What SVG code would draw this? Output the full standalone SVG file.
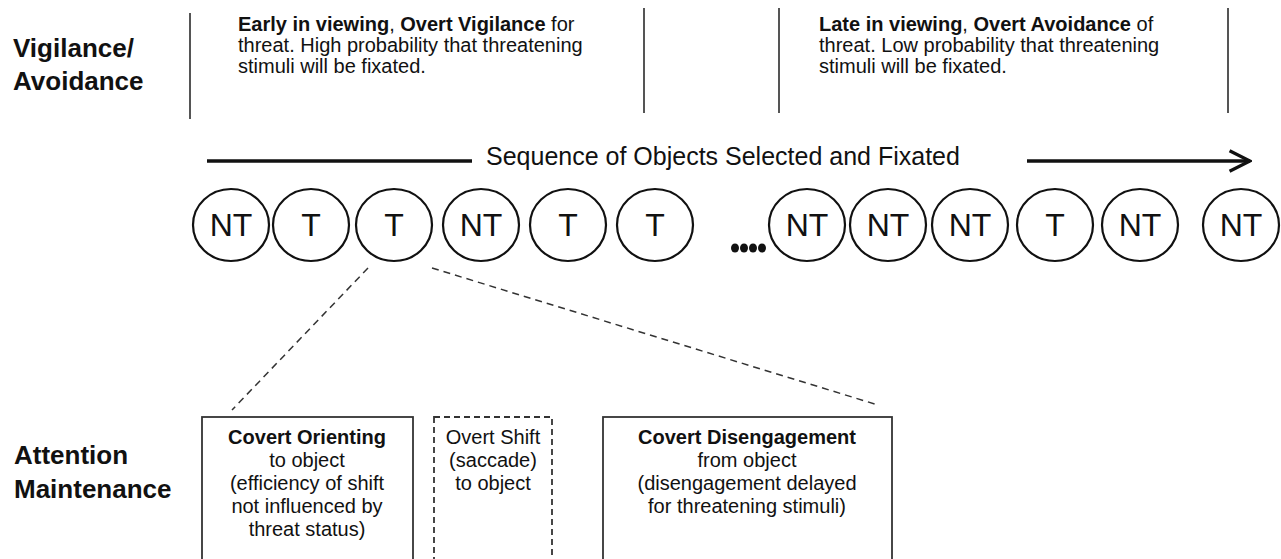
<svg xmlns="http://www.w3.org/2000/svg" width="1281" height="559" viewBox="0 0 1281 559">
  <style>
    text { font-family: "Liberation Sans", Arial, sans-serif; fill: #111; }
    .head { font-size: 26px; font-weight: bold; }
    .note { font-size: 20px; }
    .box-text { font-size: 20px; text-anchor: middle; }
    .b { font-weight: bold; }
    .seq { font-size: 25px; }
    .obj-label { font-size: 32px; text-anchor: middle; }
    .divider { stroke: #555; stroke-width: 2; }
    .obj { fill: #fff; stroke: #111; stroke-width: 2.2; }
    .stage { fill: #fff; stroke: #333; stroke-width: 1.8; }
    .stage-dashed { fill: #fff; stroke: #333; stroke-width: 1.8; stroke-dasharray: 6 4; }
    .link { fill: none; stroke: #333; stroke-width: 1.5; stroke-dasharray: 7 5; }
    .timeline { fill: none; stroke: #111; stroke-width: 3.5; }
  </style>
  <defs>
    <marker id="chevron" viewBox="0 0 12 12" refX="11" refY="6" markerWidth="7" markerHeight="7" orient="auto" markerUnits="strokeWidth">
      <path d="M1,1 L11,6 L1,11" fill="none" stroke="#111" stroke-width="1.6"/>
    </marker>
  </defs>

  <rect width="1281" height="559" fill="#fff"/>

  <!-- row headings -->
  <g id="heading-vigilance">
    <text class="head" x="13" y="57">Vigilance/</text>
    <text class="head" x="13" y="90">Avoidance</text>
  </g>
  <g id="heading-attention">
    <text class="head" x="14" y="464">Attention</text>
    <text class="head" x="14" y="498">Maintenance</text>
  </g>

  <!-- column dividers -->
  <g id="dividers">
    <line class="divider" x1="190" y1="13" x2="190" y2="119"/>
    <line class="divider" x1="644" y1="8" x2="644" y2="113"/>
    <line class="divider" x1="779" y1="8" x2="779" y2="113" stroke="#333"/>
    <line class="divider" x1="1228" y1="8" x2="1228" y2="113" stroke="#333"/>
  </g>

  <g id="note-early">
    <text class="note" x="238" y="31"><tspan class="b">Early in viewing</tspan>, <tspan class="b">Overt Vigilance</tspan> for</text>
    <text class="note" x="238" y="52">threat. High probability that threatening</text>
    <text class="note" x="238" y="73">stimuli will be fixated.</text>
  </g>
  <g id="note-late">
    <text class="note" x="819" y="31"><tspan class="b">Late in viewing</tspan>, <tspan class="b">Overt Avoidance</tspan> of</text>
    <text class="note" x="819" y="52">threat. Low probability that threatening</text>
    <text class="note" x="819" y="73">stimuli will be fixated.</text>
  </g>

  <!-- sequence timeline -->
  <g id="timeline">
    <line class="timeline" x1="207" y1="161" x2="472" y2="161"/>
    <text class="seq" x="486" y="165">Sequence of Objects Selected and Fixated</text>
    <line class="timeline" x1="1027" y1="161" x2="1250" y2="161" marker-end="url(#chevron)"/>
  </g>

  <!-- fixated objects -->
  <g id="obj-1"><ellipse class="obj" cx="231" cy="225" rx="38" ry="36"/><text class="obj-label" x="231" y="236">NT</text></g>
  <g id="obj-2"><ellipse class="obj" cx="311" cy="225" rx="38" ry="36"/><text class="obj-label" x="311" y="236">T</text></g>
  <g id="obj-3"><ellipse class="obj" cx="394" cy="225" rx="38" ry="36"/><text class="obj-label" x="394" y="236">T</text></g>
  <g id="obj-4"><ellipse class="obj" cx="481" cy="225" rx="38" ry="36"/><text class="obj-label" x="481" y="236">NT</text></g>
  <g id="obj-5"><ellipse class="obj" cx="568" cy="225" rx="38" ry="36"/><text class="obj-label" x="568" y="236">T</text></g>
  <g id="obj-6"><ellipse class="obj" cx="655" cy="225" rx="38" ry="36"/><text class="obj-label" x="655" y="236">T</text></g>
  <g id="ellipsis">
    <ellipse cx="735" cy="248" rx="4" ry="4.5" fill="#111"/>
    <ellipse cx="744" cy="248" rx="4" ry="4.5" fill="#111"/>
    <ellipse cx="753" cy="248" rx="4" ry="4.5" fill="#111"/>
    <ellipse cx="762" cy="248" rx="4" ry="4.5" fill="#111"/>
  </g>
  <g id="obj-7"><ellipse class="obj" cx="807" cy="225" rx="38" ry="36"/><text class="obj-label" x="807" y="236">NT</text></g>
  <g id="obj-8"><ellipse class="obj" cx="888" cy="225" rx="38" ry="36"/><text class="obj-label" x="888" y="236">NT</text></g>
  <g id="obj-9"><ellipse class="obj" cx="970" cy="225" rx="38" ry="36"/><text class="obj-label" x="970" y="236">NT</text></g>
  <g id="obj-10"><ellipse class="obj" cx="1055" cy="225" rx="38" ry="36"/><text class="obj-label" x="1055" y="236">T</text></g>
  <g id="obj-11"><ellipse class="obj" cx="1140" cy="225" rx="38" ry="36"/><text class="obj-label" x="1140" y="236">NT</text></g>
  <g id="obj-12"><ellipse class="obj" cx="1241" cy="225" rx="38" ry="36"/><text class="obj-label" x="1241" y="236">NT</text></g>

  <!-- zoom-out connectors from the third object -->
  <g id="connectors">
    <line class="link" x1="368" y1="268" x2="232" y2="410"/>
    <line class="link" x1="432" y1="268" x2="878" y2="405"/>
  </g>

  <!-- attention stages -->
  <g id="stage-orienting">
    <rect class="stage" x="202" y="417" width="211" height="160"/>
    <text class="box-text" x="307" y="444"><tspan class="b">Covert Orienting</tspan></text>
    <text class="box-text" x="307" y="467">to object</text>
    <text class="box-text" x="307" y="490">(efficiency of shift</text>
    <text class="box-text" x="307" y="513">not influenced by</text>
    <text class="box-text" x="307" y="536">threat status)</text>
  </g>
  <g id="stage-shift">
    <rect class="stage-dashed" x="434" y="417" width="118" height="160"/>
    <text class="box-text" x="493" y="444">Overt Shift</text>
    <text class="box-text" x="493" y="467">(saccade)</text>
    <text class="box-text" x="493" y="490">to object</text>
  </g>
  <g id="stage-disengagement">
    <rect class="stage" x="603" y="417" width="289" height="160"/>
    <text class="box-text" x="747" y="444"><tspan class="b">Covert Disengagement</tspan></text>
    <text class="box-text" x="747" y="467">from object</text>
    <text class="box-text" x="747" y="490">(disengagement delayed</text>
    <text class="box-text" x="747" y="513">for threatening stimuli)</text>
  </g>
</svg>
